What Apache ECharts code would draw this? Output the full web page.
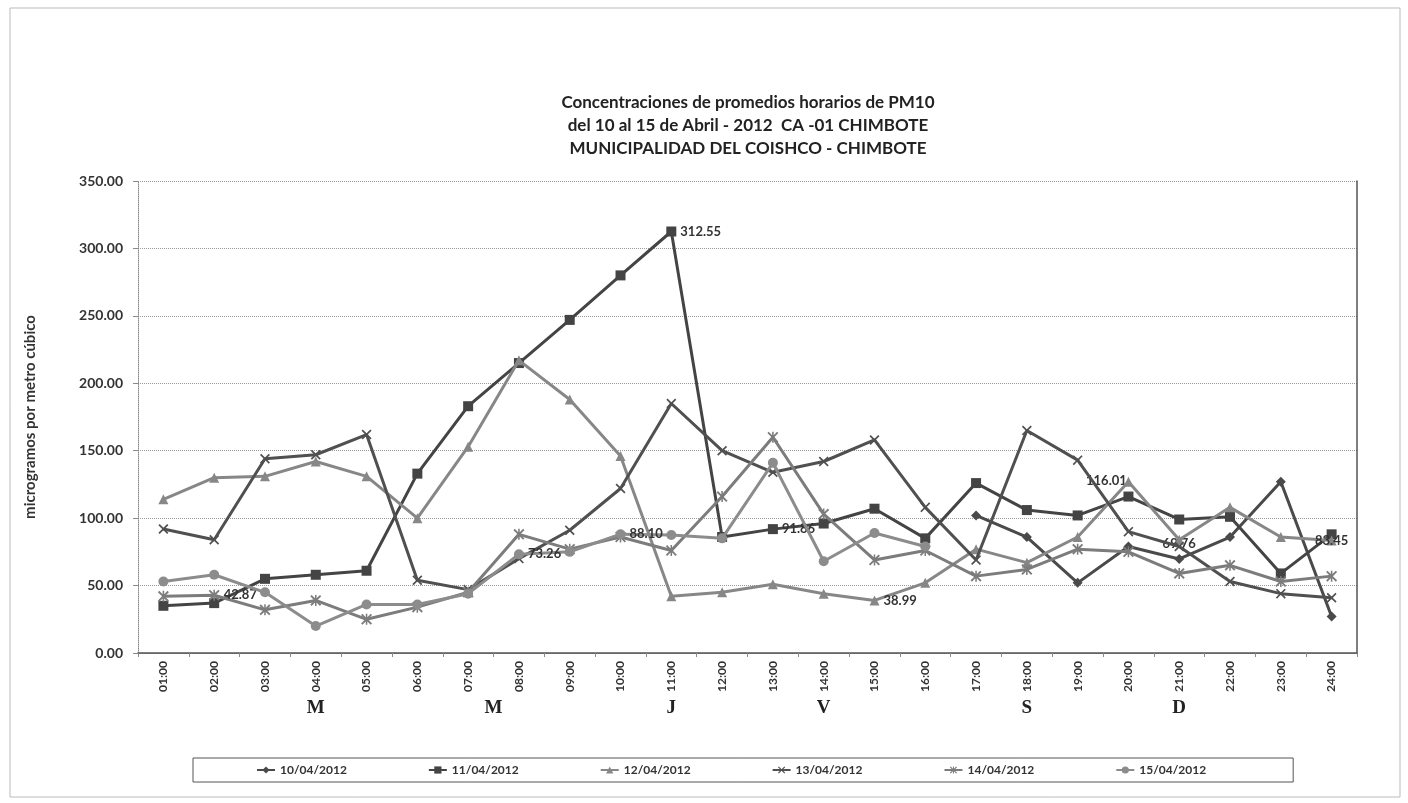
<!DOCTYPE html>
<html>
<head>
<meta charset="utf-8">
<script src="https://cdn.jsdelivr.net/npm/echarts@6/dist/echarts.min.js"></script>
<style>
html,body{margin:0;padding:0;background:#fff;}
#c{width:1408px;height:803px;}
</style>
</head>
<body>
<div id="c"></div>
<script>
// ---- data ----
const hours = ['01:00','02:00','03:00','04:00','05:00','06:00','07:00','08:00','09:00','10:00','11:00','12:00',
               '13:00','14:00','15:00','16:00','17:00','18:00','19:00','20:00','21:00','22:00','23:00','24:00'];
const seriesNames = ['10/04/2012','11/04/2012','12/04/2012','13/04/2012','14/04/2012','15/04/2012'];
const d10 = [null,null,null,null,null,null,null,null,null,null,null,null,null,null,null,null,102,86,52,79,69.76,86,127,27];
const d11 = [35,37,55,58,61,133,183,215,247,280,312.55,86,91.86,96,107,85,126,106,102,116.01,99,101,59,88];
const d12 = [114,130,131,142,131,100,153,217,188,146,42,45,51,44,38.99,52,77,67,86,127,84,108,86,83.45];
const d13 = [92,84,144,147,162,54,47,70,91,122,185,150,134,142,158,108,69,165,143,90,79,53,44,41];
const d14 = [42,42.87,32,39,25,34,45,88,77,86,76,116,160,103,69,76,57,62,77,75,59,65,53,57];
const d15 = [53,58,45,20,36,36,44,73.26,75,88.10,87.5,85,141,68,89,79,null,null,null,null,null,null,null,null];
const yTicks = [0,50,100,150,200,250,300,350];
const dayLetters = ['M','M','J','V','S','D'];
const dayAnchors = [3,6.5,10,13,17,20];
// labelled points: [seriesIndex, hourIndex, position]
const labelled = [[4,1,'right'],[5,7,'right'],[5,9,'right'],[1,10,'right'],[1,12,'right'],[2,14,'right'],[1,19,'top'],[0,20,'top'],[2,23,'inside']];

const titleLines = ['Concentraciones de promedios horarios de PM10','del 10 al 15 de Abril - 2012  CA -01 CHIMBOTE','MUNICIPALIDAD DEL COISHCO - CHIMBOTE'];

const FONT = 'Lato, "Open Sans", sans-serif';
const colors = ['#4a4a4a','#444444','#878787','#505050','#7c7c7c','#8c8c8c'];
const xPath = 'path://M0,1.2 L1.2,0 L5,3.8 L8.8,0 L10,1.2 L6.2,5 L10,8.8 L8.8,10 L5,6.2 L1.2,10 L0,8.8 L3.8,5 Z';
const starPath = 'path://M0,1.2 L1.2,0 L4.3,3.1 L4.3,0 L5.7,0 L5.7,3.1 L8.8,0 L10,1.2 L6.2,5 L10,8.8 L8.8,10 L5.7,6.9 L5.7,10 L4.3,10 L4.3,6.9 L1.2,10 L0,8.8 L3.8,5 Z';
const symbols = ['diamond','rect','triangle',xPath,starPath,'circle'];
const symSizes = [10,10,10,10,11,10];
const all = [d10,d11,d12,d13,d14,d15];

const series = all.map((arr, si) => {
  const data = arr.map((v, hi) => {
    const lab = labelled.find(l => l[0] === si && l[1] === hi);
    if (lab && v !== null) {
      const o = {value: v, label: {show: true, position: lab[2], formatter: p => p.value.toFixed(2),
        fontFamily: FONT, fontWeight: 'bold', fontSize: 13, color: '#333', distance: 4}};
      if (lab[2] === 'top' && si === 1) o.label.offset = [-22, 0];
      return o;
    }
    return v;
  });
  return {
    name: seriesNames[si], type: 'line', data: data,
    symbol: symbols[si], symbolSize: symSizes[si], showSymbol: true,
    lineStyle: {width: 3, color: colors[si]},
    itemStyle: {color: colors[si]},
    connectNulls: false, z: 3 + si, animation: false
  };
});

const chart = echarts.init(document.getElementById('c'));
const option = {
  animation: false,
  backgroundColor: '#fff',
  title: {
    text: titleLines.join('\n'), left: 743, top: 86, textAlign: 'center',
    textStyle: {fontFamily: FONT, fontWeight: 'bold', fontSize: 17, color: '#222', lineHeight: 23}
  },
  grid: {left: 138, right: 51, top: 181, bottom: 150},
  legend: {
    data: seriesNames, left: 193, top: 758,
    itemGap: 81, itemWidth: 18, itemHeight: 9,
    padding: [6, 87, 6, 63],
    borderColor: '#555', borderWidth: 1,
    textStyle: {fontFamily: FONT, fontWeight: 'bold', fontSize: 12, color: '#333'}
  },
  xAxis: [{
    type: 'category', data: hours, boundaryGap: true,
    axisLine: {lineStyle: {color: '#888', type: 'dotted', width: 1}},
    axisTick: {show: true, alignWithLabel: false, length: 4, lineStyle: {color: '#888'}},
    axisLabel: {rotate: 90, interval: 0, fontFamily: FONT, fontWeight: 'bold', fontSize: 12, color: '#333', margin: 8}
  }, {
    type: 'category', data: hours, position: 'top',
    axisLine: {lineStyle: {color: '#555', width: 1.5}}, axisTick: {show: false}, axisLabel: {show: false}
  }],
  yAxis: [{
    type: 'value', min: 0, max: 350, interval: 50,
    name: 'microgramos por metro cúbico', nameLocation: 'middle', nameGap: 100, nameRotate: 90,
    nameTextStyle: {fontFamily: FONT, fontWeight: 'bold', fontSize: 15, color: '#333'},
    axisLine: {show: true, lineStyle: {color: '#888', type: 'dotted'}},
    axisTick: {show: true, length: 5, lineStyle: {color: '#888'}},
    axisLabel: {formatter: v => v.toFixed(2), fontFamily: FONT, fontWeight: 'bold', fontSize: 14, color: '#333', margin: 15},
    splitLine: {lineStyle: {color: '#999', type: 'dotted', width: 1}}
  }, {
    type: 'value', min: 0, max: 350, interval: 50, position: 'right',
    axisLine: {show: true, lineStyle: {color: '#555', width: 1.5}}, axisTick: {show: false}, axisLabel: {show: false}, splitLine: {show: false}
  }],
  series: series
};
chart.setOption(option);

// weekday letters under the axis, anchored to hour positions
const p0 = chart.convertToPixel({xAxisIndex: 0}, 0);
const p1 = chart.convertToPixel({xAxisIndex: 0}, 1);
const step = p1 - p0;
const gElems = dayLetters.map((t, i) => ({
  type: 'text', x: p0 + dayAnchors[i] * step, y: 708,
  style: {text: t, font: 'bold 19px "Liberation Serif", serif', fill: '#222', textAlign: 'center', textVerticalAlign: 'middle'}
}));
gElems.push({type: 'rect', shape: {x: 10, y: 8, width: 1390, height: 789}, style: {fill: 'none', stroke: '#bbb', lineWidth: 1}, silent: true, z: -1});
chart.setOption({graphic: gElems});
</script>
</body>
</html>
